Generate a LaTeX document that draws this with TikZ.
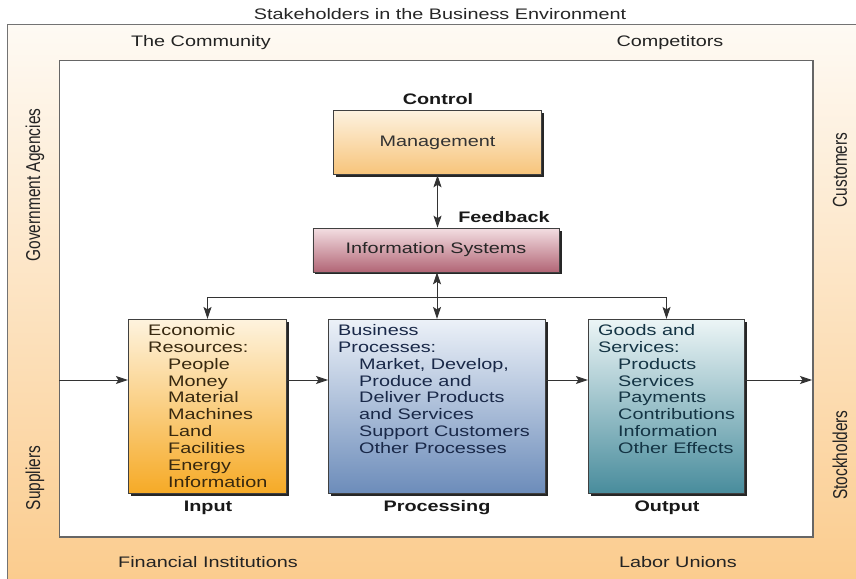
\documentclass[tikz,border=0pt]{standalone}
\usepackage{fontspec}
\setmainfont{Liberation Sans}[FakeStretch=1.3]
\newfontfamily\rotfont{Liberation Sans}
\usepackage{graphicx}
\usetikzlibrary{arrows.meta,shadows}
\definecolor{frameTop}{RGB}{254,250,244}
\definecolor{frameBot}{RGB}{251,204,142}
\definecolor{mgTop}{RGB}{253,242,224}
\definecolor{mgBot}{RGB}{247,196,122}
\definecolor{isTop}{RGB}{243,222,226}
\definecolor{isBot}{RGB}{178,102,118}
\definecolor{inTop}{RGB}{254,243,222}
\definecolor{inBot}{RGB}{246,170,38}
\definecolor{prTop}{RGB}{236,241,248}
\definecolor{prBot}{RGB}{108,140,186}
\definecolor{ouTop}{RGB}{236,245,246}
\definecolor{ouBot}{RGB}{72,140,156}
\definecolor{inText}{RGB}{55,40,15}
\definecolor{prText}{RGB}{25,40,72}
\definecolor{ouText}{RGB}{20,52,68}
\definecolor{lblText}{RGB}{35,35,35}
\begin{document}
\begin{tikzpicture}[x=1bp,y=1bp,
  txt/.style={font=\fontsize{15.3}{17}\selectfont, text=lblText, inner sep=0},
  ttl/.style={font=\fontsize{15.3}{17}\selectfont\bfseries, text=black!90, inner sep=0},
  rot/.style={rotate=90, text=lblText, inner sep=0},
  box/.style={draw=black!75, line width=0.8, inner sep=0,
    drop shadow={shadow xshift=2.5bp, shadow yshift=-2.5bp, fill=black!85, opacity=1}},
  boxtxt/.style={anchor=north west, align=left, inner sep=0,
    font=\fontsize{15.3}{17}\selectfont},
  tip/.style={Stealth[length=12bp,width=8bp,inset=2.5bp]},
  arr/.style={draw=black!80, line width=0.9, -{Stealth[length=12bp,width=8bp,inset=2.5bp]}},
  darr/.style={draw=black!80, line width=0.9, {Stealth[length=12bp,width=8bp,inset=2.5bp]}-{Stealth[length=12bp,width=8bp,inset=2.5bp]}},
  ln/.style={draw=black!80, line width=0.9}]
\useasboundingbox (0,0) rectangle (856,-579);

% outer frame
\node[draw=black!55, line width=1.5, top color=frameTop, bottom color=frameBot,
  minimum width=852, minimum height=557, anchor=north west, inner sep=0] (frame) at (7,-24) {};
% inner environment
\node[draw=black!60, line width=1.5, fill=white, minimum width=756, minimum height=478,
  anchor=north west, inner sep=0] (env) at (59,-60) {};

% title and stakeholders
\node[txt, text=black!85] (title) at (440,-14) {Stakeholders in the Business Environment};
\node[txt] (comm) at (201,-43) {The Community};
\node[txt] (comp) at (670,-43) {Competitors};
\node[txt] (fin) at (208,-562) {Financial Institutions};
\node[txt] (lab) at (678,-562) {Labor Unions};
\node[rot] (gov) at (35,-185) {\rotfont\fontsize{15.5}{17}\selectfont\scalebox{1}[1.3]{Government Agencies}};
\node[rot] (sup) at (35,-478) {\rotfont\fontsize{15.5}{17}\selectfont\scalebox{1}[1.3]{Suppliers}};
\node[rot] (cus) at (840,-170) {\rotfont\fontsize{15.5}{17}\selectfont\scalebox{1}[1.3]{Customers}};
\node[rot] (sto) at (840,-455) {\rotfont\fontsize{15.5}{17}\selectfont\scalebox{1}[1.3]{Stockholders}};

% control
\node[ttl] (ctl) at (438,-99) {Control};
\node[box, top color=mgTop, bottom color=mgBot, minimum width=209, minimum height=65,
  txt, text=black!80] (mgmt) at (437.5,-142.5) {Management};
\node[ttl] (fb) at (504,-217) {Feedback};
\node[box, top color=isTop, bottom color=isBot, minimum width=247, minimum height=44,
  txt, text=black!85] (is) at (436,-250) {Information Systems};

% three boxes
\node[box, top color=inTop, bottom color=inBot, minimum width=159, minimum height=175] (input) at (207.5,-406.5) {};
\node[box, top color=prTop, bottom color=prBot, minimum width=218, minimum height=175] (proc) at (437,-406.5) {};
\node[box, top color=ouTop, bottom color=ouBot, minimum width=157, minimum height=175] (output) at (666.5,-406.5) {};

\node[boxtxt, text=inText] (intext) at (148,-324) {Economic\\Resources:\\\hspace*{20bp}People\\\hspace*{20bp}Money\\\hspace*{20bp}Material\\\hspace*{20bp}Machines\\\hspace*{20bp}Land\\\hspace*{20bp}Facilities\\\hspace*{20bp}Energy\\\hspace*{20bp}Information};
\node[boxtxt, text=prText] (prtext) at (338,-324) {Business\\Processes:\\\hspace*{21bp}Market, Develop,\\\hspace*{21bp}Produce and\\\hspace*{21bp}Deliver Products\\\hspace*{21bp}and Services\\\hspace*{21bp}Support Customers\\\hspace*{21bp}Other Processes};
\node[boxtxt, text=ouText] (outext) at (598,-324) {Goods and\\Services:\\\hspace*{20bp}Products\\\hspace*{20bp}Services\\\hspace*{20bp}Payments\\\hspace*{20bp}Contributions\\\hspace*{20bp}Information\\\hspace*{20bp}Other Effects};

\node[ttl] (inl) at (208,-508) {Input};
\node[ttl] (prl) at (437,-508) {Processing};
\node[ttl] (oul) at (667,-508) {Output};

% connectors
\coordinate (yline) at (0,-380);
\coordinate (bus) at (0,-297);
\coordinate (busL) at (input.north |- bus);
\coordinate (busR) at (output.north |- bus);
\coordinate (outEnd) at (812,-380);
\draw[darr] (mgmt.south) -- (mgmt.south |- is.north);
\draw[darr] (proc.north |- is.south) -- (proc.north);
\draw[ln] (busL) -- (busR);
\draw[arr] (busL) -- (input.north);
\draw[arr] (busR) -- (output.north);
\draw[arr] (env.west |- yline) -- (input.west |- yline);
\draw[arr] (input.east |- yline) -- (proc.west |- yline);
\draw[arr] (proc.east |- yline) -- (output.west |- yline);
\draw[arr] (output.east |- yline) -- (outEnd);
\end{tikzpicture}
\end{document}
